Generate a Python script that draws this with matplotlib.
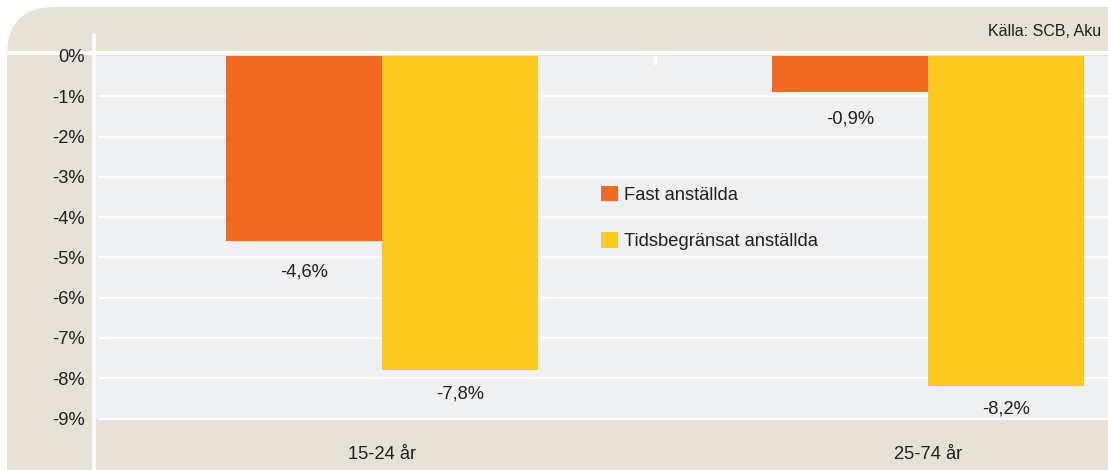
import matplotlib
matplotlib.use("Agg")
import matplotlib.pyplot as plt
from matplotlib.patches import FancyBboxPatch
import numpy as np

plt.rcParams['font.family'] = ['Liberation Sans', 'DejaVu Sans']

# ---- data ----
categories = ["15-24 år", "25-74 år"]
series_names = ["Fast anställda", "Tidsbegränsat anställda"]
fast = [-4.6, -0.9]
tids = [-7.8, -8.2]
yticks = [0, -1, -2, -3, -4, -5, -6, -7, -8, -9]
source = "Källa: SCB, Aku"

# ---- style ----
W, H = 1108, 470
BEIGE = "#e5e1d7"
PANEL = "#eff0f2"
ORANGE = "#f26922"
YELLOW = "#fcc921"
TXT = "#231f20"
FS = 13.2
# label offsets below bar ends (points), per series
label_offsets = [[-22, -19], [-17, -16]]

fig = plt.figure(figsize=(W / 100, H / 100), dpi=100, facecolor="white")

# background layer in pixel coordinates
bg = fig.add_axes([0, 0, 1, 1], zorder=0)
bg.set_xlim(0, W)
bg.set_ylim(H, 0)
bg.axis("off")
bg.add_patch(FancyBboxPatch((7, 7), W + 200, H + 200,
                            boxstyle="round,pad=0,rounding_size=48",
                            facecolor=BEIGE, edgecolor="none"))
bg.plot([7, W], [53, 53], color="white", lw=2.9, solid_capstyle="butt")
bg.plot([94, 94], [33, H], color="white", lw=2.6, solid_capstyle="butt")

# main axes
left, top, bottom = 96, 56, 418.5
ax = fig.add_axes([left / W, (H - bottom) / H, (W - left) / W, (bottom - top) / H], zorder=1)
ax.set_facecolor(PANEL)
for s in ax.spines.values():
    s.set_visible(False)

x = np.arange(len(categories))
bw = 0.286
b1 = ax.bar(x - bw / 2, fast, width=bw, color=ORANGE, label=series_names[0], zorder=3)
b2 = ax.bar(x + bw / 2, tids, width=bw, color=YELLOW, label=series_names[1], zorder=3)

ax.set_xlim(-0.524, 1.330)
ax.set_ylim(-9, 0)

for v in yticks[1:]:
    ax.axhline(v, xmin=4 / (W - left), xmax=1, color="white", lw=1.6, zorder=2, clip_on=False)
ax.axvline(0.5, ymin=1 - 7 / (bottom - top), ymax=1, color="white", lw=2.2, zorder=2)

ax.set_yticks(yticks)
ax.set_yticklabels([f"{v}%" for v in yticks], fontsize=FS, color=TXT)
ax.set_xticks(x)
ax.set_xticklabels(categories, fontsize=FS, color=TXT)
ax.tick_params(axis="y", length=0, pad=8)
ax.tick_params(axis="x", length=0, pad=20)

for bars, offs in zip((b1, b2), label_offsets):
    for rect, off in zip(bars, offs):
        val = rect.get_height()
        ax.annotate(f"{val:.1f}%".replace(".", ","),
                    xy=(rect.get_x() + rect.get_width() / 2, val),
                    xytext=(0, off), textcoords="offset points",
                    ha="center", va="center", fontsize=FS, color=TXT)

leg = fig.legend(handles=[b1, b2], labels=series_names, loc="upper left",
                 bbox_to_anchor=(601 / W, (H - 186) / H), frameon=False,
                 fontsize=FS, handlelength=0.9, handleheight=0.9,
                 handletextpad=0.35, labelspacing=1.55, borderpad=0,
                 borderaxespad=0)
for t in leg.get_texts():
    t.set_color(TXT)

fig.text(1101 / W, (H - 32) / H, source, ha="right", va="center",
         fontsize=11.5, color=TXT)

fig.savefig("out.png", dpi=100, facecolor="white")
